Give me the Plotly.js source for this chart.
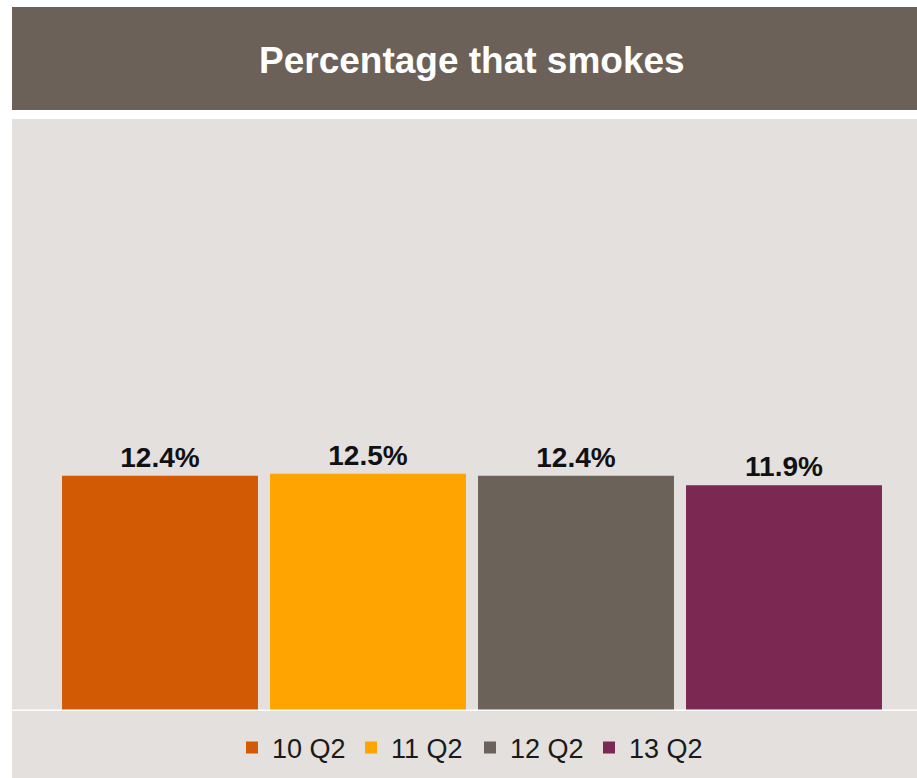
<!DOCTYPE html>
<html>
<head>
<meta charset="utf-8">
<script src="https://cdn.plot.ly/plotly-3.0.1.min.js"></script>
<style>html,body{margin:0;padding:0;background:#fff;}#chart{width:917px;height:778px;}</style>
</head>
<body>
<div id="chart"></div>
<script>
const seriesNames = ["10 Q2", "11 Q2", "12 Q2", "13 Q2"];
const seriesValues = [12.4, 12.5, 12.4, 11.9];
const seriesColors = ["#d25a05", "#ffa400", "#6b6259", "#7b2852"];
const chartTitle = "Percentage that smokes";

const traces = seriesNames.map((name, i) => ({
  type: "bar",
  name: name,
  x: [name],
  y: [seriesValues[i]],
  marker: { color: seriesColors[i] },
  texttemplate: "%{y:.1f}%",
  textposition: "outside",
  cliponaxis: false,
  textfont: { family: "Liberation Sans, Arial, sans-serif", size: 28, color: "#111", weight: "bold" },
  hoverinfo: "skip"
}));

const W = 917, H = 778;
const ml = 56, mr = 29, mt = 119, mb = 67;
const ph = H - mt - mb;
const pw = W - ml - mr;

const layout = {
  width: W, height: H,
  margin: { l: ml, r: mr, t: mt, b: mb, pad: 0, autoexpand: false },
  paper_bgcolor: "#ffffff",
  plot_bgcolor: "rgba(0,0,0,0)",
  barmode: "relative",
  bargap: 0.058,
  showlegend: true,
  font: { family: "Liberation Sans, Arial, sans-serif" },
  xaxis: { type: "category", showticklabels: false, showgrid: false, zeroline: false, showline: false, ticks: "", fixedrange: true },
  yaxis: { range: [0, 31.2], showticklabels: false, showgrid: false, zeroline: false, showline: false, ticks: "", fixedrange: true },
  legend: {
    orientation: "h",
    x: (470 - ml) / pw, xanchor: "center",
    y: -(748 - (H - mb)) / ph, yanchor: "middle",
    bgcolor: "rgba(0,0,0,0)",
    font: { family: "Liberation Sans, Arial, sans-serif", size: 27, color: "#1a1a1a" },
    itemwidth: 30,
    entrywidth: 74,
    traceorder: "normal"
  },
  shapes: [
    { type: "rect", xref: "paper", yref: "paper", layer: "below",
      x0: (12 - ml) / pw, x1: (917 - ml) / pw,
      y0: -(778 - (H - mb)) / ph, y1: 1,
      fillcolor: "#e3e0dd", line: { width: 0 } },
    { type: "rect", xref: "paper", yref: "paper", layer: "below",
      x0: (12 - ml) / pw, x1: (917 - ml) / pw,
      y0: ((H - mb) - 110) / ph, y1: ((H - mb) - 7) / ph,
      fillcolor: "#6b6158", line: { width: 0 } },
    { type: "line", xref: "paper", yref: "y", layer: "above",
      x0: (7 - ml) / pw, x1: (917 - ml) / pw,
      y0: 0, y1: 0,
      line: { color: "#ffffff", width: 3 } }
  ],
  annotations: [
    { text: chartTitle, xref: "paper", yref: "paper", showarrow: false,
      x: (472 - ml) / pw, xanchor: "center",
      y: ((H - mb) - 61) / ph, yanchor: "middle",
      font: { family: "Liberation Sans, Arial, sans-serif", size: 37, color: "#ffffff", weight: "bold" } }
  ]
};

Plotly.newPlot("chart", traces, layout, { displayModeBar: false, staticPlot: true });
</script>
</body>
</html>
